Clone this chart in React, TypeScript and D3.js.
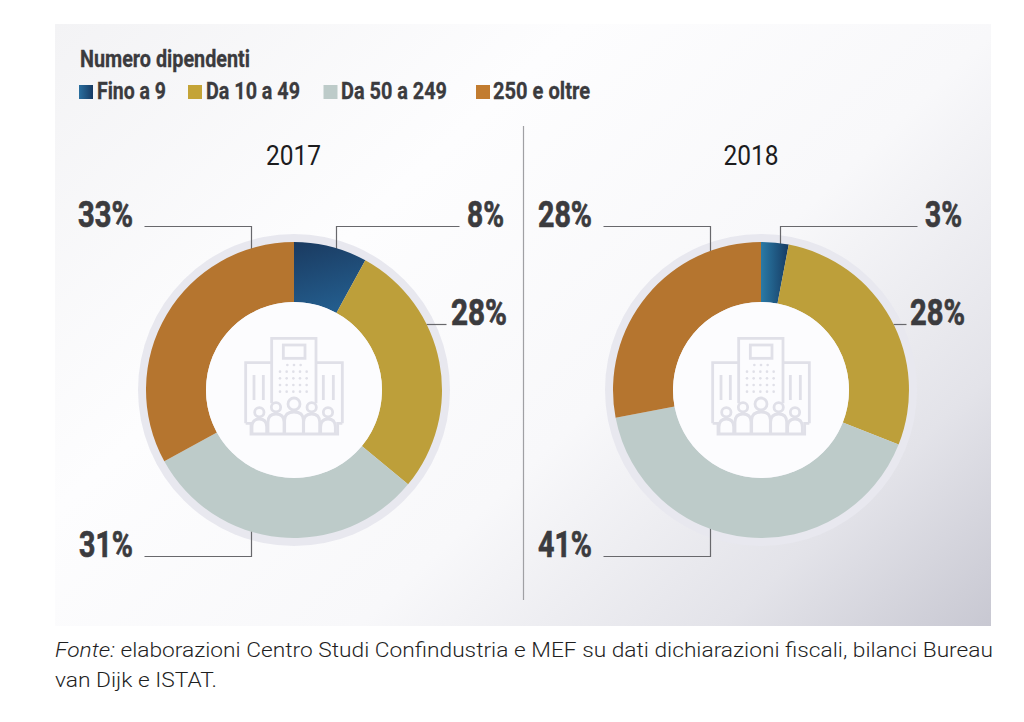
import React from "react";
import * as d3 from "d3";

const categories = ["Fino a 9", "Da 10 a 49", "Da 50 a 249", "250 e oltre"];
const values2017 = [8, 28, 31, 33];
const values2018 = [3, 28, 41, 28];
const legendTitle = "Numero dipendenti";
const caption1 = "elaborazioni Centro Studi Confindustria e MEF su dati dichiarazioni fiscali, bilanci Bureau";
const caption2 = "van Dijk e ISTAT.";

const GOLD = "#bd9f3a", GREY = "#bdcbc9", ORANGE = "#b5752f";
const TEXT = "#3b3b3e";
const ICON = "#e0e0e8";
const legendColors = ["url(#blueL)", "#c4a437", "#bdcbc9", "#c27c30"];

const legendSwatchX = [79, 188, 323.5, 476];
const legendTextX = [97, 206, 341, 493];
const legendTextW = [69, 94, 106, 97];

const R = 148, r = 88, HALO = 156;

function Cond({ x, y, w, size, weight = 700, fill = TEXT, anchor = "start", bold = 0, children }: any) {
  return (
    <text x={x} y={y} fontFamily="Roboto" fontSize={size} fontWeight={weight} fill={fill}
      stroke={bold ? fill : "none"} strokeWidth={bold}
      textAnchor={anchor} textLength={w} lengthAdjust="spacingAndGlyphs">{children}</text>
  );
}

function Icon({ cx, cy }: { cx: number; cy: number }) {
  const X = (v: number) => (v - 312) / 3;
  const Y = (v: number) => (v - 300) / 3;
  const dotsX = d3.range(270, 351, 20);
  const dotsY = d3.range(245, 306, 20);
  const people: [number, number, number, number][] = [
    [208, 367, 14, 22], [258, 352, 14, 24], [312, 342, 18, 28], [365, 352, 14, 24], [414, 367, 14, 22],
  ];
  return (
    <g transform={`translate(${cx},${cy})`} fill="none" stroke={ICON} strokeWidth={2.8}>
      <path d={`M${X(167)},${Y(400)}V${Y(218)}H${X(245)}M${X(245)},${Y(340)}V${Y(145)}H${X(378)}V${Y(340)}M${X(378)},${Y(218)}H${X(457)}V${Y(400)}`} />
      <rect x={X(280)} y={Y(165)} width={65 / 3} height={40 / 3} />
      {[192, 220, 400, 430].map((v) => (
        <line key={v} x1={X(v)} x2={X(v)} y1={Y(255)} y2={Y(330)} />
      ))}
      {dotsX.flatMap((dx) => dotsY.map((dy) => (
        <circle key={`${dx}-${dy}`} cx={X(dx)} cy={Y(dy)} r={1.3} fill={ICON} stroke="none" />
      )))}
      {[292, 312, 332].map((dx) => (
        <circle key={dx} cx={X(dx)} cy={Y(225)} r={1.3} fill={ICON} stroke="none" />
      ))}
      {people.map(([px, py, pr, hw]) => (
        <g key={px}>
          <circle cx={X(px)} cy={Y(py)} r={pr / 3} />
          <path d={`M${X(px - hw)},${Y(432)}V${Y(py + pr + 30)}Q${X(px - hw)},${Y(py + pr + 6)} ${X(px)},${Y(py + pr + 6)}Q${X(px + hw)},${Y(py + pr + 6)} ${X(px + hw)},${Y(py + pr + 30)}V${Y(432)}`} />
        </g>
      ))}
      <path d={`M${X(167)},${Y(400)}H${X(183)}V${Y(432)}H${X(443)}V${Y(400)}H${X(457)}`} />
    </g>
  );
}

function Donut({ cx, cy, values, title, titleX, labels, blue }: any) {
  const colors = [blue, GOLD, GREY, ORANGE];
  const pie = d3.pie<number>().sort(null).value((d) => d)(values);
  const arc = d3.arc<d3.PieArcDatum<number>>().innerRadius(r).outerRadius(R);
  return (
    <g>
      <circle cx={cx} cy={cy} r={HALO} fill="#e8e8ef" />
      {labels.map((l: any, i: number) => (
        <path key={i} d={d3.line()(l.line.map(([a, b]: number[]) => [cx + a + 0.5, cy + b + 0.5]) as any) as string}
          fill="none" stroke="#68686c" strokeWidth={1.2} />
      ))}
      <g transform={`translate(${cx},${cy})`}>
        {pie.map((p, i) => <path key={i} d={arc(p) as string} fill={colors[i]} />)}
        <circle r={r} fill="#fcfcfe" />
      </g>
      <Icon cx={cx} cy={cy} />
      <Cond x={titleX} y={165} w={55} size={28} weight={400} fill="#1c1c1e" anchor="middle">{title}</Cond>
      {labels.map((l: any, i: number) => (
        <Cond key={i} x={l.x} y={l.y} w={l.w} size={36} bold={0.7}>{`${values[l.i]}%`}</Cond>
      ))}
    </g>
  );
}

const labels2017 = [
  { i: 3, x: 78, y: 227, w: 55, line: [[-150, -164], [-43, -164], [-43, -138]] },
  { i: 0, x: 467, y: 227, w: 37, line: [[42, -138], [42, -164], [165, -164]] },
  { i: 1, x: 451, y: 325, w: 56, line: [[132, -66], [152, -66]] },
  { i: 2, x: 79, y: 557, w: 54, line: [[-150, 166], [-43, 166], [-43, 135]] },
];
const labels2018 = [
  { i: 3, x: 538, y: 227, w: 54, line: [[-158, -164], [-51, -164], [-51, -138]] },
  { i: 0, x: 925, y: 227, w: 37, line: [[19, -146], [19, -164], [156, -164]] },
  { i: 1, x: 910, y: 325, w: 55, line: [[132, -66], [145, -66]] },
  { i: 2, x: 538, y: 557, w: 54, line: [[-158, 166], [-51, 166], [-51, 135]] },
];

export default function App() {
  return (
    <svg width={1024} height={722} style={{ position: "absolute", left: 0, top: 0, background: "#fff" }}>
      <defs>
        <linearGradient id="panel" gradientUnits="userSpaceOnUse" x1={254} y1={-163} x2={991} y2={626}>
          <stop offset="0" stopColor="#f3f3f5" />
          <stop offset="0.33" stopColor="#fdfdfe" />
          <stop offset="0.6" stopColor="#f8f8fa" />
          <stop offset="0.83" stopColor="#e3e3e9" />
          <stop offset="1" stopColor="#c8c8d2" />
        </linearGradient>
        <linearGradient id="blue17" x1="0" y1="0" x2="0.3" y2="1">
          <stop offset="0" stopColor="#1a3a60" />
          <stop offset="1" stopColor="#235c8c" />
        </linearGradient>
        <linearGradient id="blue18" x1="0" y1="0" x2="1" y2="0">
          <stop offset="0" stopColor="#2a7aa6" />
          <stop offset="1" stopColor="#163a62" />
        </linearGradient>
        <linearGradient id="blueL" x1="0" y1="0" x2="1" y2="0">
          <stop offset="0" stopColor="#2a6f9f" />
          <stop offset="1" stopColor="#173a63" />
        </linearGradient>
      </defs>
      <rect x={55} y={24} width={936} height={602} fill="url(#panel)" />
      <Cond x={80} y={67} w={170} size={23} bold={0.3}>{legendTitle}</Cond>
      {categories.map((c, i) => (
        <g key={c}>
          <rect x={legendSwatchX[i]} y={85} width={14} height={14} fill={legendColors[i]} />
          <Cond x={legendTextX[i]} y={99} w={legendTextW[i]} size={23} bold={0.3}>{c}</Cond>
        </g>
      ))}
      <line x1={523.5} x2={523.5} y1={126} y2={600} stroke="#a0a0a4" strokeWidth={1.2} />
      <Donut cx={294} cy={390} values={values2017} title="2017" titleX={293.5} labels={labels2017} blue="url(#blue17)" />
      <Donut cx={761} cy={390} values={values2018} title="2018" titleX={751} labels={labels2018} blue="url(#blue18)" />
      <text x={55} y={657} fontFamily="Roboto" fontWeight={300} fontSize={21} fill="#1f1f1f" textLength={938} lengthAdjust="spacingAndGlyphs">
        <tspan fontStyle="italic">Fonte:</tspan> {caption1}
      </text>
      <text x={55} y={687} fontFamily="Roboto" fontWeight={300} fontSize={21} fill="#1f1f1f" textLength={162} lengthAdjust="spacingAndGlyphs">{caption2}</text>
    </svg>
  );
}
